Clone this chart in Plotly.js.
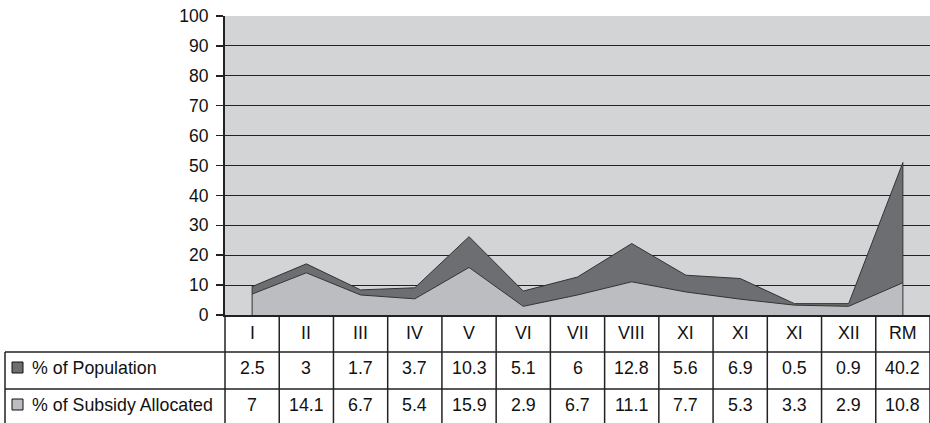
<!DOCTYPE html>
<html><head><meta charset="utf-8">
<script src="https://cdn.plot.ly/plotly-3.0.1.min.js"></script>
<style>html,body{margin:0;padding:0;background:#fff}#chart{width:930px;height:423px}</style>
</head><body><div id="chart"></div>
<script>
const categories = ["I","II","III","IV","V","VI","VII","VIII","XI","XI","XI","XII","RM"];
const population = [2.5,3,1.7,3.7,10.3,5.1,6,12.8,5.6,6.9,0.5,0.9,40.2];
const subsidy = [7,14.1,6.7,5.4,15.9,2.9,6.7,11.1,7.7,5.3,3.3,2.9,10.8];
const seriesNames = ["% of Population","% of Subsidy Allocated"];
const yTicks = [0,10,20,30,40,50,60,70,80,90,100];

const W = 930, H = 423, ML = 225, MR = 0, MT = 16, MB = 108;
const PW = W - ML - MR, PH = H - MT - MB;
const px = X => (X - ML) / PW;          // pixel -> paper x
const py = Y => (H - MB - Y) / PH;      // pixel -> paper y

const n = categories.length;
const xs = categories.map((c, i) => i);
const totals = subsidy.map((s, i) => s + population[i]);

const darkFill = '#6d6e71', lightFill = '#bcbdc0', bg = '#d3d4d6', lineCol = '#222';
const font = {family: 'Liberation Sans, Arial, sans-serif', size: 17.8, color: '#111'};
const tickFont = {family: 'Liberation Sans, Arial, sans-serif', size: 17.5, color: '#111'};

const traces = [
  {x: xs, y: subsidy, type: 'scatter', mode: 'lines', stackgroup: 'one',
   fillcolor: lightFill, line: {color: '#333', width: 1}, name: seriesNames[1]},
  {x: xs, y: population, type: 'scatter', mode: 'lines', stackgroup: 'one',
   fillcolor: darkFill, line: {color: '#333', width: 1}, name: seriesNames[0]},
  {x: [xs[0], xs[0], null, xs[n-1], xs[n-1]], y: [0, totals[0], null, 0, totals[n-1]],
   type: 'scatter', mode: 'lines', line: {color: '#333', width: 1}, hoverinfo: 'skip'}
];

const shapes = [];
const annotations = [];
const rowTop = [315, 352, 389, 423];
shapes.push({type: 'line', xref: 'paper', yref: 'paper', x0: px(5), x1: 1, y0: py(rowTop[1]), y1: py(rowTop[1]), line: {color: lineCol, width: 1.5}});
shapes.push({type: 'line', xref: 'paper', yref: 'paper', x0: px(5), x1: 1, y0: py(rowTop[2]), y1: py(rowTop[2]), line: {color: lineCol, width: 1.5}});
shapes.push({type: 'line', xref: 'paper', yref: 'paper', x0: px(5), x1: px(5), y0: py(rowTop[1]), y1: py(H + 2), line: {color: lineCol, width: 1.5}});
for (let i = 0; i <= n; i++) {
  shapes.push({type: 'line', xref: 'paper', yref: 'paper', x0: i / n, x1: i / n, y0: 0, y1: py(H + 2), line: {color: lineCol, width: 1.5}});
}
shapes.push({type: 'rect', xref: 'paper', yref: 'paper', x0: px(12), x1: px(23), y0: py(362), y1: py(373), fillcolor: darkFill, line: {color: '#111', width: 1}});
shapes.push({type: 'rect', xref: 'paper', yref: 'paper', x0: px(12), x1: px(23), y0: py(399), y1: py(410), fillcolor: lightFill, line: {color: '#111', width: 1}});

annotations.push({xref: 'paper', yref: 'paper', x: px(30), y: py(368), text: seriesNames[0], showarrow: false, xanchor: 'left', yanchor: 'middle', font: font});
annotations.push({xref: 'paper', yref: 'paper', x: px(30), y: py(405), text: seriesNames[1], showarrow: false, xanchor: 'left', yanchor: 'middle', font: font});

categories.forEach((c, i) => {
  const xc = (i + 0.5) / n;
  annotations.push({xref: 'paper', yref: 'paper', x: xc, y: py(333), text: c, showarrow: false, xanchor: 'center', yanchor: 'middle', font: font});
  annotations.push({xref: 'paper', yref: 'paper', x: xc, y: py(368), text: String(population[i]), showarrow: false, xanchor: 'center', yanchor: 'middle', font: font});
  annotations.push({xref: 'paper', yref: 'paper', x: xc, y: py(405), text: String(subsidy[i]), showarrow: false, xanchor: 'center', yanchor: 'middle', font: font});
});

const layout = {
  width: W, height: H,
  margin: {l: ML, r: MR, t: MT, b: MB, pad: 0},
  paper_bgcolor: '#fff', plot_bgcolor: bg,
  showlegend: false,
  font: font,
  xaxis: {range: [-0.5, n - 0.5], showticklabels: false, ticks: '', showgrid: false, zeroline: false,
          showline: true, linecolor: lineCol, linewidth: 2, mirror: false, fixedrange: true},
  yaxis: {range: [0, 100], tickvals: yTicks, ticks: 'outside', ticklen: 7, tickwidth: 1.5, tickcolor: lineCol,
          showgrid: true, gridcolor: lineCol, gridwidth: 1, zeroline: false,
          showline: true, linecolor: lineCol, linewidth: 2, ticklabelstandoff: 4,
          tickfont: tickFont, fixedrange: true},
  shapes: shapes,
  annotations: annotations
};

Plotly.newPlot('chart', traces, layout, {staticPlot: true, displayModeBar: false});
</script></body></html>
